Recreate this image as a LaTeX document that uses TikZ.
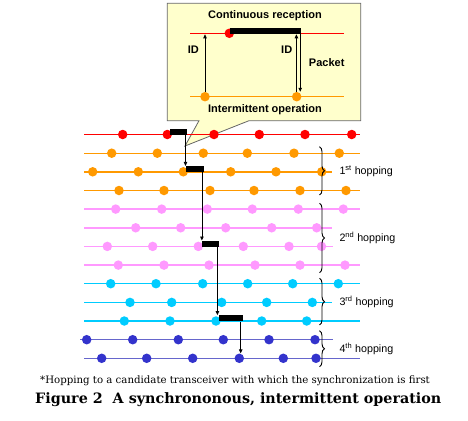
\documentclass[tikz,border=0pt]{standalone}
\usepackage{fontspec}
\setsansfont{Liberation Sans}
\newfontfamily\capfont{DejaVu Serif}
\usetikzlibrary{arrows.meta,decorations.pathreplacing}
\definecolor{lred}{HTML}{FF0000}
\definecolor{lorange}{HTML}{FF9900}
\definecolor{lpink}{HTML}{FF99FF}
\definecolor{lcyan}{HTML}{00CCFF}
\definecolor{lblue}{HTML}{3333CC}
\definecolor{lblueline}{HTML}{6666CC}
\definecolor{callfill}{HTML}{FFFFCC}
\definecolor{callline}{HTML}{666666}

\begin{document}
\begin{tikzpicture}[
					x=1pt,y=-1pt,
					tdot/.style={circle,fill=#1,inner sep=0pt,minimum size=9.5pt},
					tline/.style={draw=#1,line width=1.4pt},
					pkbar/.style={fill=black,inner sep=0pt,minimum height=6pt,anchor=south west},
					pkarrow/.style={draw=black,line width=0.8pt,-{Triangle[length=4pt,width=3.5pt]}},
					hbrace/.style={decorate,decoration={brace,amplitude=5pt},line width=0.9pt},
					hlabel/.style={anchor=west,inner sep=0pt,font=\sffamily\fontsize{10.7}{12}\selectfont},
					ctext/.style={inner sep=0pt,font=\sffamily\bfseries\fontsize{11}{13}\selectfont}
					]
					\useasboundingbox (0,0) rectangle (468,420);
					% callout
					\draw[fill=callfill,draw=callline,line width=0.8pt]
						(167.3,3.3) -- (360.7,3.3) -- (360.7,120.7) -- (249,120.7) -- (185,146)
						-- (199,120.7) -- (167.3,120.7) -- cycle;
					\node[ctext] (crtxt) at (265,15.7) {Continuous reception};
					\node[ctext] (iotxt) at (265,110) {Intermittent operation};
					\draw[tline=lred] (190,33.3) -- (344,33.3);
					\draw[tline=lorange] (190,96.7) -- (344,96.7);
					\node[tdot=lred] (cr) at (229.3,33.3) {};
					\node[pkbar,minimum width=71pt] (cpk) at (229.3,34.3) {};
					\node[tdot=lorange] (co1) at (205,96.7) {};
					\node[tdot=lorange] (co2) at (296.7,96.7) {};
					\coordinate (cup) at ([xshift=-4.3pt]cpk.south east);
					\coordinate (cdn) at ([xshift=-0.5pt]cpk.south east);
					\draw[pkarrow] (co1.north) -- (co1.north |- cpk.south);
					\draw[pkarrow] (cup |- co2.north) -- (cup);
					\draw[pkarrow] (cdn) -- (cdn |- co2.north);
					\node[ctext] (id1) at (193.3,49.3) {ID};
					\node[ctext] (id2) at (286.7,49.3) {ID};
					\node[ctext] (pktxt) at (326.7,62.3) {Packet};
					% channel lines
					\foreach \q/\y/\lc/\dc/\xa/\xb/\dl in {
						0/134.5/lred/lred/84/360/{122.7,167.3,214,259.3,305,351.7},
						1/153.2/lorange/lorange/84/360/{111.7,157.3,203.3,247.3,294,339.3},
						2/171.8/lorange/lorange/84/332/{92.7,138.3,183.3,230.7,276,321.7},
						3/190.5/lorange/lorange/84/360/{119,164,210,254,300,346},
						4/209.1/lpink/lpink/84/360/{115.7,161.7,207.3,252.3,298.3,343.3},
						5/227.8/lpink/lpink/84/332/{135.7,180.7,225.7,271.7,316.7},
						6/246.4/lpink/lpink/84/333/{107.3,152.7,198.3,243.3,289,321.5},
						7/265.1/lpink/lpink/84/360/{118.3,164,209,255,300,345},
						8/283.7/lcyan/lcyan/84/360/{110.7,156,202.7,247.7,292.7,338.3},
						9/302.4/lcyan/lcyan/84/332/{130,171.7,221.7,266.7,312.3},
						10/321/lcyan/lcyan/84/360/{124.3,170,216,261.7,306.7},
						11/339.7/lblueline/lblue/80/333/{86.7,132.7,178.3,223.3,269,315},
						12/358.3/lblueline/lblue/84/360/{101.7,146.7,192.7,239.3,283.3,316}}{
						\draw[tline=\lc] (\xa,\y) -- (\xb,\y);
						\foreach \x [count=\k] in \dl{
							\node[tdot=\dc] (d\q-\k) at (\x,\y) {};
						}
					}
					% packets
					\node[pkbar,minimum width=17pt] (pk1) at (169.3,135) {};
					\node[pkbar,minimum width=17.3pt] (pk2) at (186,172.3) {};
					\node[pkbar,minimum width=17.3pt] (pk3) at (201.7,246.9) {};
					\node[pkbar,minimum width=24.4pt] (pk4) at (218.3,321.5) {};
					\coordinate (pa1) at ([xshift=-1.2pt]pk1.south east);
					\coordinate (pa2) at ([xshift=-1.8pt]pk2.south east);
					\coordinate (pa3) at ([xshift=-2pt]pk3.south east);
					\coordinate (pa4) at ([xshift=-2.4pt]pk4.south east);
					\draw[pkarrow] (pa1) -- (pa1 |- pk2.north);
					\draw[pkarrow] (pa2) -- (pa2 |- pk3.north);
					\draw[pkarrow] (pa3) -- (pa3 |- pk4.north);
					\draw[pkarrow] (pa4) -- (pa4 |- d12-4.north);
					% hopping groups
					\draw[hbrace] (319.5,146.7) -- (319.5,195);
					\draw[hbrace] (319.5,203.3) -- (319.5,272.7);
					\draw[hbrace] (319.5,278.3) -- (319.5,325);
					\draw[hbrace] (319.5,330.7) -- (319.5,366.7);
					\node[hlabel] (hop1) at (339.3,171) {1\textsuperscript{st} hopping};
					\node[hlabel] (hop2) at (339.3,238) {2\textsuperscript{nd} hopping};
					\node[hlabel] (hop3) at (339.3,301.7) {3\textsuperscript{rd} hopping};
					\node[hlabel] (hop4) at (339.3,348.7) {4\textsuperscript{th} hopping};
					% caption
					\node[inner sep=0pt,font=\capfont\fontsize{10.2}{12}\selectfont] (note) at (235,380.7)
						{*Hopping to a candidate transceiver with which the synchronization is first};
					\node[inner sep=0pt,font=\capfont\bfseries\fontsize{14.3}{17}\selectfont] (fig) at (238.3,399.3)
						{Figure 2~~A synchrononous, intermittent operation};
				\end{tikzpicture}
\end{document}
